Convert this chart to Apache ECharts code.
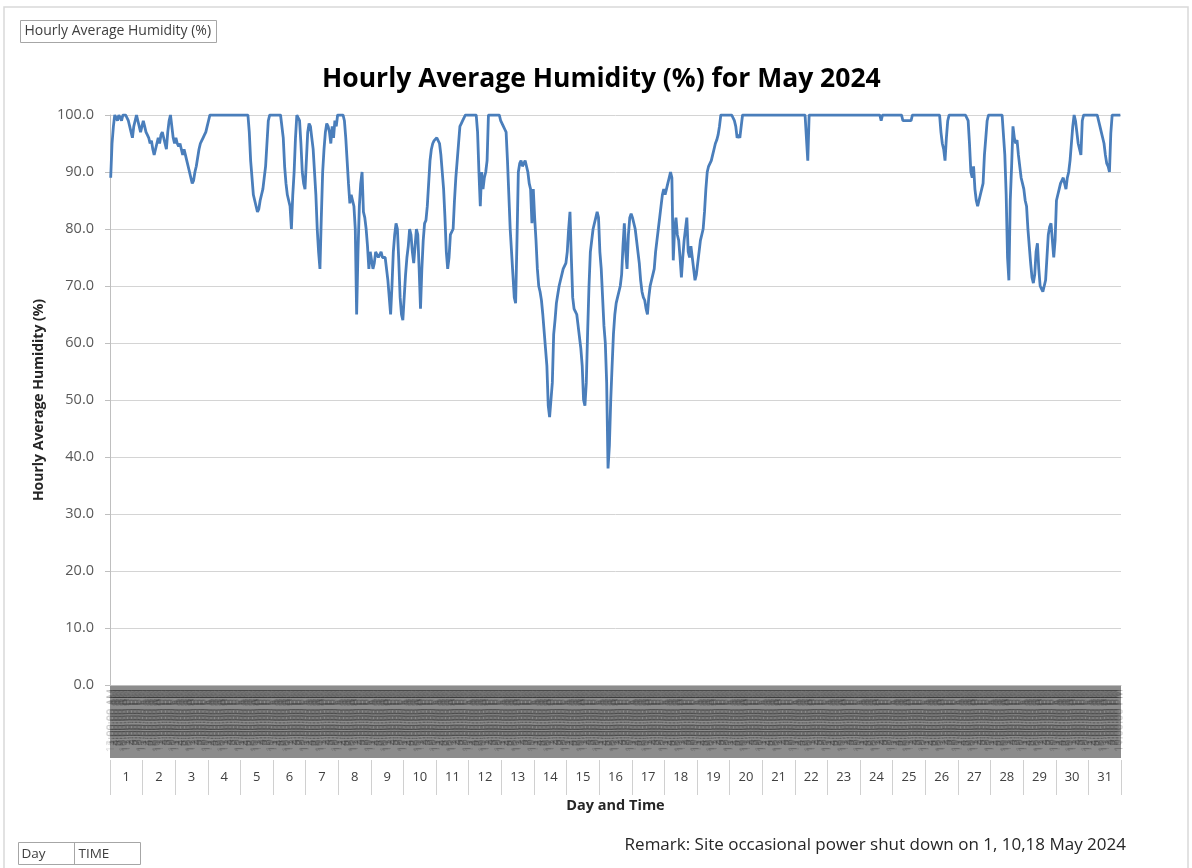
<!DOCTYPE html>
<html>
<head>
<meta charset="utf-8">
<title>Hourly Average Humidity (%) for May 2024</title>
<script src="https://cdn.jsdelivr.net/npm/echarts@6/dist/echarts.min.js"></script>
<style>
  html, body { margin: 0; padding: 0; background: #fff; }
  #chart { width: 1192px; height: 868px; }
</style>
</head>
<body>
<div id="chart"></div>
<script>
// lower axis row: day of month
const days = ['1', '2', '3', '4', '5', '6', '7', '8', '9', '10', '11', '12', '13', '14', '15', '16',
  '17', '18', '19', '20', '21', '22', '23', '24', '25', '26', '27', '28', '29', '30', '31']

// upper axis row: hour of the day
const hourLabels = ['12:00:00 AM', '1:00:00 AM', '2:00:00 AM', '3:00:00 AM', '4:00:00 AM', '5:00:00 AM',
  '6:00:00 AM', '7:00:00 AM', '8:00:00 AM', '9:00:00 AM', '10:00:00 AM', '11:00:00 AM',
  '12:00:00 PM', '1:00:00 PM', '2:00:00 PM', '3:00:00 PM', '4:00:00 PM', '5:00:00 PM',
  '6:00:00 PM', '7:00:00 PM', '8:00:00 PM', '9:00:00 PM', '10:00:00 PM', '11:00:00 PM']

// y axis ticks
const yMin = 0
const yMax = 100
const yStep = 10

// hourly average humidity (%), one array of 24 hours per day
const may01 = [89, 95, 98, 100, 100, 99, 100, 100, 99, 100, 100, 100, 100, 99, 98, 97, 96, 98, 99, 100, 99, 98, 97, 98]
const may02 = [99, 98, 97, 96.5, 96, 95, 95.5, 94, 93, 94, 95, 96, 95, 96.5, 97, 96, 95, 94, 97, 99, 100, 98, 96, 95]
const may03 = [96, 95, 94.5, 95, 94, 93, 94, 93, 92, 91, 90, 89, 88, 88.5, 90, 91, 92.5, 94, 95, 95.5, 96, 96.5, 97, 98]
const may04 = [99, 100, 100, 100, 100, 100, 100, 100, 100, 100, 100, 100, 100, 100, 100, 100, 100, 100, 100, 100, 100, 100, 100, 100]
const may05 = [100, 100, 100, 100, 100, 100, 97, 92, 89, 86, 85, 84, 83, 83.5, 85, 86, 87, 89, 91, 95, 99, 100, 100, 100]
const may06 = [100, 100, 100, 100, 100, 100, 100, 96, 91, 88, 86, 85, 84, 80, 86, 90, 96, 100, 100, 99, 95, 90, 88, 87]
const may07 = [92, 97, 98.5, 98, 96, 94, 90, 86, 80, 76, 73, 82, 90, 94, 97, 98.5, 98, 97, 95, 98, 96, 99, 98, 100]
const may08 = [100, 100, 100, 100, 99, 96, 92, 88, 84.5, 86, 85, 84, 80, 65, 76, 84, 88, 90, 83, 82, 80, 77, 73, 76]
const may09 = [75.7, 73, 74, 76, 76, 75, 75, 76, 75, 75, 75, 73, 71, 68, 65, 70, 76, 79, 81, 80, 74.5, 68, 65, 64]
const may10 = [68, 72, 75, 77, 80, 79, 76, 74, 77, 80, 79, 73, 66, 73, 78, 81, 81.5, 84, 88, 92, 94, 95, 95.5, 95.6]
const may11 = [96, 96, 95, 93, 90, 87, 82, 76, 73, 75, 79, 79, 80, 85, 89, 92, 95, 98, 98.5, 99, 99.5, 100, 100, 100]
const may12 = [100, 100, 100, 100, 100, 100, 97, 90, 84, 90, 87, 89, 90, 92, 100, 100, 100, 100, 100, 100, 100, 100, 100, 99]
const may13 = [99, 98, 97.5, 97, 92, 86, 80, 76, 72, 68, 67, 78, 90, 91.5, 92, 91, 91, 92, 91, 90, 88, 87, 81, 87]
const may14 = [82, 78, 73, 70, 69, 67.5, 65, 62, 59, 56, 49, 47, 50, 53, 61.5, 64, 67, 68.5, 70, 71, 72, 73, 73, 74]
const may15 = [76, 80, 83, 75, 68, 66, 65.5, 65, 63, 61, 59, 56, 50, 49, 53, 62, 70, 76, 78, 80, 81, 82, 83, 82]
const may16 = [76, 73, 68, 63, 60, 53, 38, 42, 50, 56, 61.6, 65, 67, 68, 69, 70, 72, 77, 81, 76, 73, 79, 82, 82.7]
const may17 = [82, 81, 80, 78, 76, 74, 71, 69, 68, 67.5, 66, 65, 68, 70, 71, 72, 73, 76, 78, 80, 82, 84, 86, 87]
const may18 = [86, 87, 88, 89, 90, 89, 74.5, 80, 82, 79, 78, 75, 71.5, 75, 78, 80, 82, 76, 75, 77, 77, 73, 71, 72]
const may19 = [74, 76, 78, 79, 80, 83, 87, 90, 91, 91, 92, 93, 94, 95, 95.6, 96.5, 98, 100, 100, 100, 100, 100, 100, 100]
const may20 = [100, 100, 100, 99, 98, 96, 96.5, 96, 98, 100, 100, 100, 100, 100, 100, 100, 100, 100, 100, 100, 100, 100, 100, 100]
const may21 = [100, 100, 100, 100, 100, 100, 100, 100, 100, 100, 100, 100, 100, 100, 100, 100, 100, 100, 100, 100, 100, 100, 100, 100]
const may22 = [100, 100, 100, 100, 100, 100, 100, 100, 100, 92, 100, 100, 100, 100, 100, 100, 100, 100, 100, 100, 100, 100, 100, 100]
const may23 = [100, 100, 100, 100, 100, 100, 100, 100, 100, 100, 100, 100, 100, 100, 100, 100, 100, 100, 100, 100, 100, 100, 100, 100]
const may24 = [100, 100, 100, 100, 100, 100, 100, 100, 100, 100, 100, 100, 100, 100, 100, 99, 100, 100, 100, 100, 100, 100, 100, 100]
const may25 = [100, 100, 100, 100, 100, 100, 100, 99, 99, 99, 99, 99, 99, 99, 100, 100, 100, 100, 100, 100, 100, 100, 100, 100]
const may26 = [100, 100, 100, 100, 100, 100, 100, 100, 100, 100, 100, 97, 95, 94, 92, 96, 99, 100, 100, 100, 100, 100, 100, 100]
const may27 = [100, 100, 100, 100, 100, 100, 100, 99, 95, 90, 89, 91, 87, 85, 84, 85, 86, 86, 88, 93, 96, 99, 100, 100]
const may28 = [100, 100, 100, 100, 100, 100, 100, 100, 100, 100, 93, 86, 75, 71, 85, 91, 98, 96, 95, 95.6, 93, 91, 89, 88]
const may29 = [87, 85, 84, 80, 77, 74, 71.5, 70.5, 72, 76, 77.5, 73, 70, 69.5, 69, 70, 71, 75, 79, 80.4, 81, 81, 75, 78]
const may30 = [85, 86, 87, 88, 88.5, 89, 88, 87, 89, 90, 92, 95, 98, 100, 99, 97, 95, 94, 93, 99, 100, 100, 100, 100]
const may31 = [100, 100, 100, 100, 100, 100, 100, 100, 98, 97, 96, 95, 93, 91.5, 91, 90, 96.8, 100, 100, 100, 100, 100, 100, 100]

const humidityByDay = [may01, may02, may03, may04, may05, may06, may07, may08, may09, may10, may11, may12, may13, may14, may15, may16,
  may17, may18, may19, may20, may21, may22, may23, may24, may25, may26, may27, may28, may29, may30, may31]

// one category per hour, unique names, shown with the hour label only
const hourCategories = []
days.forEach(d => hourLabels.forEach(h => hourCategories.push(d + ' ' + h)))
const humidity = humidityByDay.flat()

const font = '"Open Sans", "Noto Sans", sans-serif'
const gridLeft = 110
const gridTop = 115
const gridRight = 71
const gridBottom = 183
const bandHeight = 75
const plotWidth = 1192 - gridLeft - gridRight
const plotHeight = 868 - gridTop - gridBottom

const chart = echarts.init(document.getElementById('chart'))

const option = {
  animation: false,
  backgroundColor: '#fff',
  textStyle: { fontFamily: font },
  title: {
    text: 'Hourly Average Humidity (%) for May 2024',
    left: 317,
    top: 61,
    textStyle: { fontSize: 26.5, fontWeight: 'bold', color: '#000', fontFamily: font }
  },
  grid: {
    left: gridLeft,
    top: gridTop,
    right: gridRight,
    bottom: gridBottom,
    containLabel: false
  },
  xAxis: [
    {
      type: 'category',
      data: hourCategories,
      boundaryGap: true,
      axisLine: { show: true, lineStyle: { color: '#bfbfbf' } },
      axisTick: { show: false },
      splitLine: { show: false },
      axisLabel: {
        interval: 0,
        rotate: 90,
        margin: 4,
        fontSize: 11,
        color: 'rgba(20, 20, 20, 0.16)',
        fontFamily: font,
        formatter: (v, i) => hourLabels[i % 24]
      }
    },
    {
      type: 'category',
      data: days,
      position: 'bottom',
      offset: bandHeight,
      boundaryGap: true,
      axisLine: { show: false },
      axisTick: { show: true, interval: 0, length: 35, lineStyle: { color: '#d0d0d0' } },
      axisLabel: { interval: 0, margin: 11, fontSize: 13, color: '#404040', fontFamily: font },
      name: 'Day and Time',
      nameLocation: 'middle',
      nameGap: 38,
      nameTextStyle: { fontSize: 14.5, fontWeight: 'bold', color: '#262626', fontFamily: font }
    }
  ],
  yAxis: {
    type: 'value',
    min: yMin,
    max: yMax,
    interval: yStep,
    axisLine: { show: true, lineStyle: { color: '#bfbfbf' } },
    axisTick: { show: true, length: 5, lineStyle: { color: '#bfbfbf' } },
    splitLine: { lineStyle: { color: '#d4d4d4' } },
    axisLabel: {
      margin: 16,
      fontSize: 14.5,
      color: '#595959',
      fontFamily: font,
      formatter: v => v.toFixed(1)
    },
    name: 'Hourly Average Humidity (%)',
    nameLocation: 'middle',
    nameGap: 62,
    nameTextStyle: { fontSize: 14, fontWeight: 'bold', color: '#262626', fontFamily: font }
  },
  graphic: [
    // outer chart frame
    {
      type: 'rect', z: -20, silent: true,
      shape: { x: 4, y: 7, width: 1184, height: 880 },
      style: { fill: 'none', stroke: '#d9d9d9', lineWidth: 1.5 }
    },
    // grey band behind the hour labels
    {
      type: 'rect', z: -10, silent: true,
      shape: { x: gridLeft, y: gridTop + plotHeight, width: plotWidth, height: bandHeight - 2 },
      style: { fill: '#8c8c8c' }
    },
    // field buttons
    {
      type: 'group', left: 20, top: 20,
      children: [
        { type: 'rect', shape: { x: 0, y: 0, width: 196, height: 22 }, style: { fill: '#fff', stroke: '#a6a6a6', lineWidth: 1 } },
        { type: 'text', x: 4, y: 11, style: { text: 'Hourly Average Humidity (%)', fontSize: 14, fill: '#404040', fontFamily: font, verticalAlign: 'middle' } }
      ]
    },
    {
      type: 'group', left: 18, top: 840,
      children: [
        { type: 'rect', shape: { x: 0, y: 0, width: 122, height: 22 }, style: { fill: '#fff', stroke: '#a6a6a6', lineWidth: 1 } },
        { type: 'line', shape: { x1: 56, y1: 0, x2: 56, y2: 22 }, style: { stroke: '#a6a6a6', lineWidth: 1 } },
        { type: 'text', x: 3, y: 12, style: { text: 'Day', fontSize: 13.5, fill: '#404040', fontFamily: font, verticalAlign: 'middle' } },
        { type: 'text', x: 60, y: 12, style: { text: 'TIME', fontSize: 13.5, fill: '#404040', fontFamily: font, verticalAlign: 'middle' } }
      ]
    },
    {
      type: 'text', right: 66, top: 837,
      style: { text: 'Remark: Site occasional power shut down on 1, 10,18 May 2024', fontSize: 17, fill: '#262626', fontFamily: font }
    }
  ],
  series: [
    {
      name: 'Hourly Average Humidity (%)',
      type: 'line',
      data: humidity,
      showSymbol: false,
      smooth: false,
      lineStyle: { width: 2.8, color: '#4a7ebb' },
      itemStyle: { color: '#4a7ebb' }
    }
  ]
}

chart.setOption(option)
window.addEventListener('resize', () => chart.resize())
</script>
</body>
</html>
